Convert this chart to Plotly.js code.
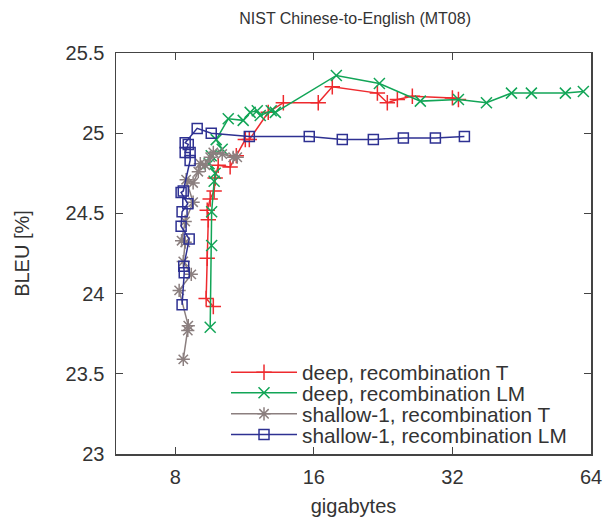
<!DOCTYPE html>
<html>
<head>
<meta charset="utf-8">
<script src="https://cdn.plot.ly/plotly-3.0.1.min.js"></script>
<style>html,body{margin:0;padding:0;background:#fff;}#chart{width:607px;height:517px;}</style>
</head>
<body>
<div id="chart"></div>
<script>
// deep, recombination T
const deepT_x = [9.68, 9.34, 9.39, 9.44, 9.39, 9.53, 9.72, 9.77, 9.92, 10.53, 10.86, 11.36, 11.59, 12.74, 13.74, 16.36, 17.55, 21.99, 23.11, 24.30, 26.19, 32.0, 32.98];
const deepT_y = [23.92, 23.97, 24.22, 24.46, 24.52, 24.59, 24.64, 24.72, 24.80, 24.79, 24.86, 24.96, 24.96, 25.13, 25.19, 25.19, 25.29, 25.25, 25.19, 25.21, 25.23, 25.22, 25.21];
// deep, recombination LM
const deepLM_x = [9.53, 9.60, 9.60, 9.72, 9.77, 9.48, 9.58, 10.12, 9.82, 10.43, 11.24, 11.64, 12.06, 12.24, 12.93, 13.20, 17.91, 22.21, 27.26, 32.98, 37.94, 43.0, 47.5, 56.3, 61.6];
const deepLM_y = [23.79, 24.30, 24.51, 24.70, 24.75, 24.81, 24.86, 24.90, 24.96, 25.09, 25.08, 25.13, 25.14, 25.11, 25.14, 25.13, 25.36, 25.31, 25.20, 25.21, 25.19, 25.25, 25.25, 25.25, 25.26];
// shallow-1, recombination T
const shT_x = [8.33, 8.52, 8.54, 8.16, 8.67, 8.33, 8.41, 8.26, 8.41, 8.75, 8.45, 8.75, 8.98, 9.07, 9.30, 9.53, 9.68, 10.12, 10.69, 10.91];
const shT_y = [23.59, 23.77, 23.80, 24.02, 24.12, 24.20, 24.32, 24.33, 24.45, 24.57, 24.71, 24.69, 24.76, 24.81, 24.80, 24.85, 24.88, 24.87, 24.85, 24.85];
// shallow-1, recombination LM
const shLM_x = [8.28, 8.37, 8.35, 8.58, 8.24, 8.28, 8.52, 8.24, 8.33, 8.62, 8.62, 8.41, 8.54, 8.41, 8.93, 9.58, 11.59, 15.64, 18.45, 21.55, 25.04, 29.39, 33.98];
const shLM_y = [23.93, 24.13, 24.17, 24.34, 24.42, 24.51, 24.56, 24.63, 24.64, 24.83, 24.88, 24.88, 24.93, 24.94, 25.03, 25.00, 24.98, 24.98, 24.96, 24.96, 24.97, 24.97, 24.98];

const names = ["deep, recombination T", "deep, recombination LM", "shallow-1, recombination T", "shallow-1, recombination LM"];
const xTicks = [8, 16, 32, 64];
const xTickText = ["8", "16", "32", "64"];
const yTicks = [23, 23.5, 24, 24.5, 25, 25.5];
const yTickText = ["23", "23.5", "24", "24.5", "25", "25.5"];

const colors = ["#ee2a2e", "#12a557", "#8b7f7f", "#2e3192"];
const symbols = ["cross-thin-open", "x-thin-open", "asterisk-open", "square-open"];
const legendIds = ["legend", "legend2", "legend3", "legend4"];
const xs = [deepT_x, deepLM_x, shT_x, shLM_x];
const ys = [deepT_y, deepLM_y, shT_y, shLM_y];

const traces = xs.map((x, i) => ({
  x: x, y: ys[i], name: names[i], type: 'scatter', mode: 'lines+markers', legend: legendIds[i],
  line: {color: colors[i], width: 1.5},
  marker: {symbol: symbols[i], size: i === 3 ? 10 : 11, color: colors[i], line: {color: colors[i], width: 1.5}}
}));

const FONT = 'Liberation Sans, Arial, sans-serif';
const axisCommon = {
  showgrid: false, zeroline: false, showline: true, mirror: 'ticks',
  linecolor: '#444', linewidth: 1.5, ticks: 'inside', ticklen: 7, tickwidth: 1.2, tickcolor: '#444',
  tickfont: {family: FONT, size: 20, color: '#333'}
};

function legendAt(y) {
  return {x: 0.2316, xanchor: 'left', y: y, yanchor: 'middle', bgcolor: 'rgba(0,0,0,0)', borderwidth: 0,
    itemwidth: 66, font: {family: FONT, size: 20.8, color: '#333'}};
}

const layout = {
  width: 607, height: 517,
  margin: {l: 116, r: 16, t: 53, b: 63},
  paper_bgcolor: '#fff', plot_bgcolor: '#fff',
  font: {family: FONT, size: 20, color: '#333'},
  title: {text: 'NIST Chinese-to-English (MT08)', x: 0.585, xanchor: 'center', y: 0.965, yanchor: 'middle', font: {family: FONT, size: 16, color: '#333'}},
  xaxis: Object.assign({}, axisCommon, {
    type: 'log', range: [Math.log10(5.95), Math.log10(64)],
    tickmode: 'array', tickvals: xTicks, ticktext: xTickText, ticklabelstandoff: 4,
    title: {text: 'gigabytes', standoff: 12, font: {family: FONT, size: 20, color: '#333'}}
  }),
  yaxis: Object.assign({}, axisCommon, {
    range: [23, 25.5], tickmode: 'array', tickvals: yTicks, ticktext: yTickText, ticklabelstandoff: 6,
    title: {text: 'BLEU [%]', standoff: 30, font: {family: FONT, size: 20, color: '#333'}}
  }),
  showlegend: true,
  legend: legendAt(0.2027),
  legend2: legendAt(0.1514),
  legend3: legendAt(0.0990),
  legend4: legendAt(0.0474)
};

Plotly.newPlot('chart', traces, layout, {displayModeBar: false, staticPlot: true});
</script>
</body>
</html>
